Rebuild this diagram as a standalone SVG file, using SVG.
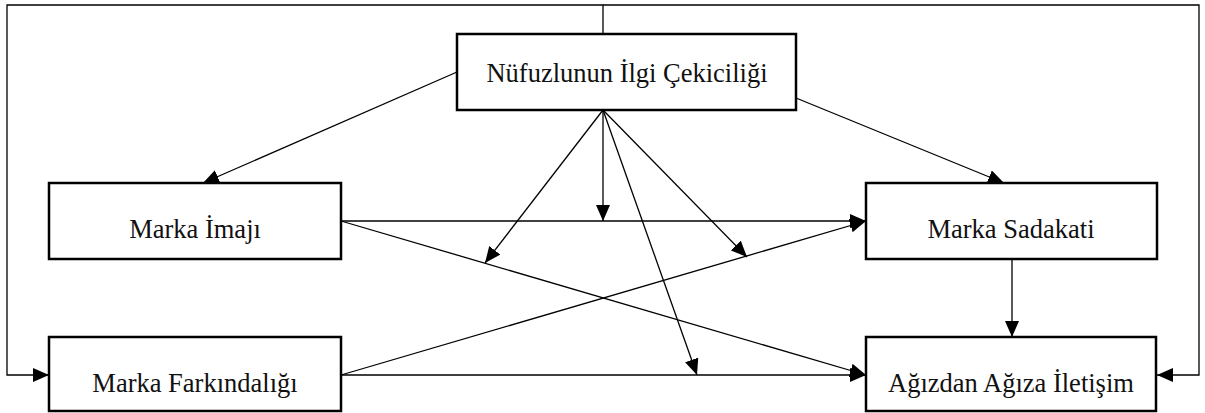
<svg xmlns="http://www.w3.org/2000/svg" width="1205" height="413" viewBox="0 0 1205 413">
  <style>
    .box { fill: #ffffff; stroke: #000000; stroke-width: 2.5; }
    .lbl { font-family: "Liberation Serif", "Times New Roman", serif; font-size: 26.5px; fill: #111111; text-anchor: middle; }
    .con { fill: none; stroke: #000000; stroke-width: 1.3; }
  </style>
  <defs>
    <marker id="arr" markerUnits="userSpaceOnUse" markerWidth="16" markerHeight="14" refX="16" refY="7" orient="auto" viewBox="0 0 16 14">
      <path d="M0,0 L16,7 L0,14 Z" fill="#000000"/>
    </marker>
  </defs>
  <rect width="1205" height="413" fill="#ffffff"/>
  <g id="connectors">
    <polyline class="con" points="603,34 603,5 7,5 7,375 49,375" marker-end="url(#arr)"/>
    <polyline class="con" points="603,5 1199,5 1199,375 1157,375" marker-end="url(#arr)"/>
    <line class="con" x1="457" y1="72" x2="203" y2="183" marker-end="url(#arr)"/>
    <line class="con" x1="796" y1="98" x2="1004" y2="183" marker-end="url(#arr)"/>
    <line class="con" x1="341" y1="221" x2="866" y2="221" marker-end="url(#arr)"/>
    <line class="con" x1="341" y1="221" x2="866" y2="375" marker-end="url(#arr)"/>
    <line class="con" x1="341" y1="375" x2="866" y2="221" marker-end="url(#arr)"/>
    <line class="con" x1="341" y1="375" x2="866" y2="375" marker-end="url(#arr)"/>
    <line class="con" x1="1012" y1="259" x2="1012" y2="337" marker-end="url(#arr)"/>
    <line class="con" x1="603" y1="110" x2="603" y2="221" marker-end="url(#arr)"/>
    <line class="con" x1="603" y1="110" x2="485" y2="263" marker-end="url(#arr)"/>
    <line class="con" x1="603" y1="110" x2="747" y2="257" marker-end="url(#arr)"/>
    <line class="con" x1="603" y1="110" x2="697" y2="375" marker-end="url(#arr)"/>
  </g>
  <g id="node-nufuz">
    <rect class="box" x="457" y="34" width="339" height="76"/>
    <text class="lbl" x="627" y="82">Nüfuzlunun İlgi Çekiciliği</text>
  </g>
  <g id="node-imaj">
    <rect class="box" x="49" y="183" width="292" height="76"/>
    <text class="lbl" x="195" y="238">Marka İmajı</text>
  </g>
  <g id="node-sadakat">
    <rect class="box" x="866" y="183" width="291" height="76"/>
    <text class="lbl" x="1011" y="238">Marka Sadakati</text>
  </g>
  <g id="node-farkindalik">
    <rect class="box" x="49" y="337" width="292" height="74"/>
    <text class="lbl" x="195" y="392">Marka Farkındalığı</text>
  </g>
  <g id="node-agizdan">
    <rect class="box" x="866" y="337" width="290" height="74"/>
    <text class="lbl" x="1011" y="392">Ağızdan Ağıza İletişim</text>
  </g>
</svg>
